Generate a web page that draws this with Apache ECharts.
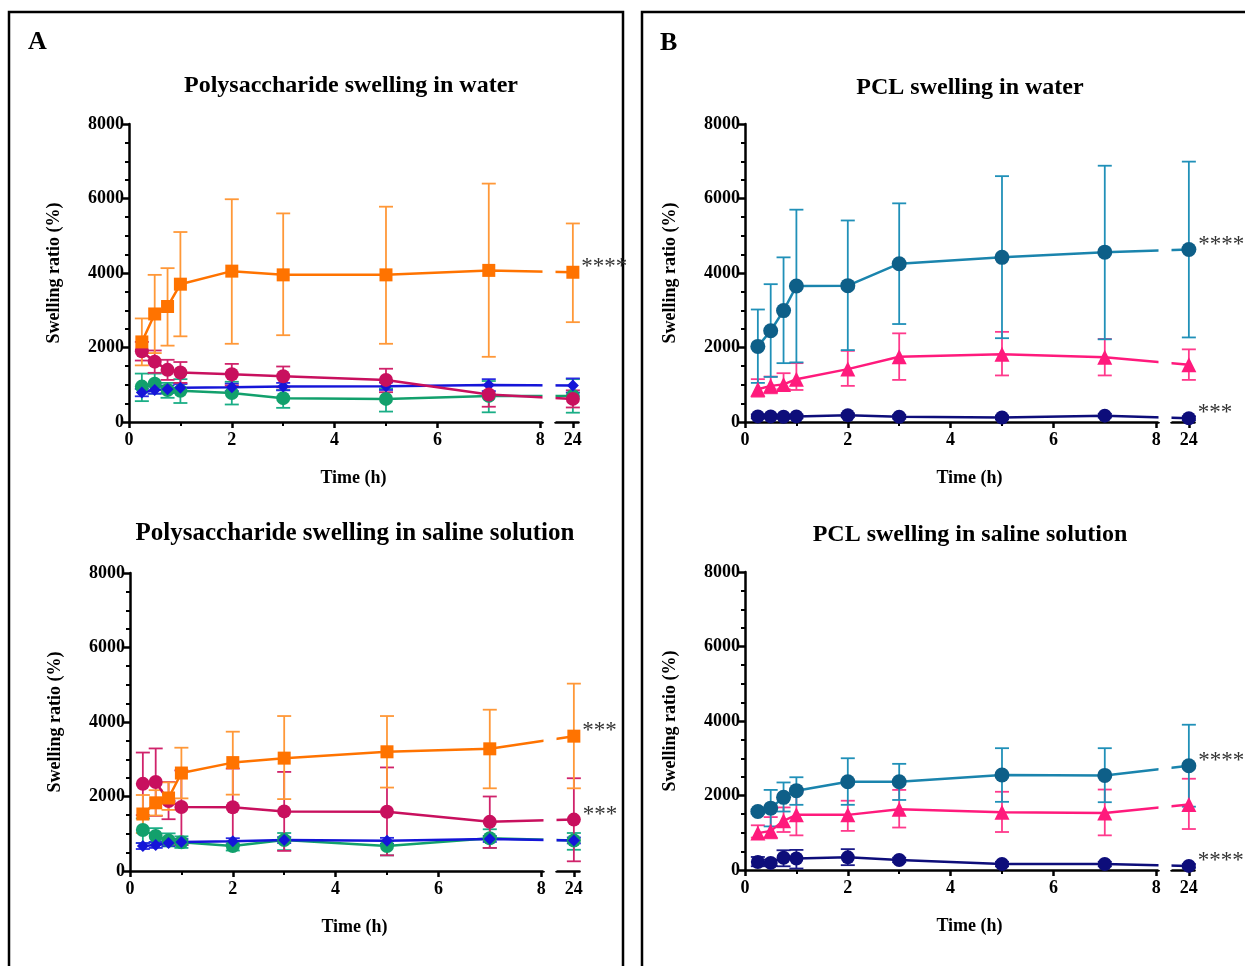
<!DOCTYPE html>
<html><head><meta charset="utf-8">
<script src="https://cdn.jsdelivr.net/npm/echarts@6/dist/echarts.min.js"></script>
<style>html,body{margin:0;padding:0;background:#fff}#c{width:1245px;height:966px}</style>
</head><body><div id="c"></div>
<script>
// ---------- data ----------
const times = [0.25, 0.5, 0.75, 1, 2, 3, 5, 7, 24];
const xTickValues = [0, 2, 4, 6, 8, 24];
const yTickValues = [0, 2000, 4000, 6000, 8000];

// Panel A – polysaccharide in water
const aWaterOrange   = [2150, 2900, 3100, 3700, 4050, 3950, 3950, 4070, 4020];
const aWaterOrangeHi = [2780, 3950, 4130, 5100, 5980, 5600, 5780, 6400, 5330];
const aWaterOrangeLo = [1520, 1850, 2050, 2300, 2100, 2330, 2100, 1750, 2680];
const aWaterCrimson   = [1900, 1620, 1400, 1330, 1280, 1230, 1130, 740, 620];
const aWaterCrimsonHi = [2150, 1920, 1670, 1610, 1560, 1490, 1430, 1000, 850];
const aWaterCrimsonLo = [1650, 1320, 1130, 1050, 980, 930, 800, 410, 390];
const aWaterBlue   = [790, 860, 880, 920, 930, 950, 960, 990, 980];
const aWaterBlueHi = [890, 960, 980, 1020, 1030, 1050, 1060, 1150, 1170];
const aWaterBlueLo = [690, 760, 780, 820, 830, 850, 860, 830, 790];
const aWaterGreen   = [950, 1030, 860, 840, 780, 640, 620, 700, 700];
const aWaterGreenHi = [1300, 1300, 1050, 1150, 1080, 860, 900, 1100, 1150];
const aWaterGreenLo = [560, 760, 650, 510, 470, 380, 280, 260, 250];

// Panel A – polysaccharide in saline
const aSalineOrange   = [1530, 1830, 1960, 2630, 2910, 3030, 3200, 3280, 3620];
const aSalineOrangeHi = [2040, 2170, 2380, 3310, 3740, 4160, 4160, 4330, 5030];
const aSalineOrangeLo = [1020, 1490, 1640, 1950, 2050, 1930, 2240, 2220, 2220];
const aSalineCrimson   = [2340, 2390, 1880, 1720, 1710, 1600, 1590, 1320, 1380];
const aSalineCrimsonHi = [3180, 3290, 2390, 2700, 2750, 2660, 2780, 2000, 2490];
const aSalineCrimsonLo = [1500, 1480, 1390, 700, 670, 540, 420, 620, 260];
const aSalineBlue   = [670, 700, 750, 780, 800, 830, 810, 860, 820];
const aSalineBlueHi = [750, 780, 830, 860, 880, 910, 890, 940, 900];
const aSalineBlueLo = [590, 620, 670, 700, 720, 750, 730, 780, 740];
const aSalineGreen   = [1100, 940, 820, 770, 670, 830, 670, 880, 820];
const aSalineGreenHi = [1410, 1150, 1010, 930, 790, 1020, 800, 1120, 1020];
const aSalineGreenLo = [750, 760, 660, 620, 550, 560, 420, 620, 570];

// Panel B – PCL in water
const bWaterTeal   = [2030, 2450, 2990, 3650, 3660, 4250, 4420, 4560, 4630];
const bWaterTealHi = [3020, 3700, 4420, 5700, 5410, 5870, 6600, 6880, 6990];
const bWaterTealLo = [1050, 1210, 1580, 1600, 1930, 2630, 2250, 2220, 2270];
const bWaterPink   = [880, 970, 1010, 1150, 1420, 1750, 1820, 1740, 1540];
const bWaterPinkHi = [1150, 1220, 1310, 1580, 1910, 2380, 2420, 2230, 1950];
const bWaterPinkLo = [680, 770, 880, 860, 970, 1130, 1250, 1250, 1130];
const bWaterNavy   = [150, 150, 140, 150, 180, 140, 120, 170, 100];
const bWaterNavyHi = [200, 200, 190, 200, 230, 190, 170, 220, 150];
const bWaterNavyLo = [100, 100, 90, 100, 130, 90, 70, 120, 50];

// Panel B – PCL in saline
const bSalineTeal   = [1570, 1660, 1950, 2130, 2370, 2370, 2550, 2540, 2800];
const bSalineTealHi = [1630, 2150, 2350, 2490, 3000, 2850, 3270, 3270, 3900];
const bSalineTealLo = [1510, 1170, 1570, 1750, 1750, 1880, 1830, 1820, 1700];
const bSalinePink   = [990, 1050, 1320, 1480, 1480, 1630, 1550, 1530, 1760];
const bSalinePinkHi = [1200, 1420, 1680, 2100, 1860, 2150, 2100, 2160, 2450];
const bSalinePinkLo = [870, 850, 1020, 930, 1050, 1140, 1020, 930, 1100];
const bSalineNavy   = [215, 190, 330, 310, 340, 270, 160, 160, 110];
const bSalineNavyHi = [350, 280, 530, 540, 560, 330, 220, 220, 160];
const bSalineNavyLo = [100, 110, 100, 40, 130, 210, 100, 100, 60];

// significance labels (at 24 h)
const sigAWater  = {orange: '****'};
const sigASaline = {orange: '***', crimson: '***'};
const sigBWater  = {teal: '****', navy: '***'};
const sigBSaline = {teal: '****', navy: '****'};

const titles = ['Polysaccharide swelling in water', 'PCL swelling in water',
                'Polysaccharide swelling in saline solution', 'PCL swelling in saline solution'];

// ---------- styling ----------
const SERIF = '"Liberation Serif","Times New Roman",serif';
const C = {
  orange:  {line: '#ff7300', err: '#ff9838', symbol: 'rect', size: 13},
  crimson: {line: '#c8105e', err: '#d0236b', symbol: 'circle', size: 14},
  blue:    {line: '#1515d8', err: '#2a2ae0', symbol: 'diamond', size: 12},
  green:   {line: '#12a06c', err: '#1aae86', symbol: 'circle', size: 14},
  teal:    {line: '#1a84ad', err: '#2090b8', mark: '#0e5f88', symbol: 'circle', size: 15},
  pink:    {line: '#ff1a7c', err: '#ff3a8c', symbol: 'triangle', size: 15},
  navy:    {line: '#0d0d7a', err: '#1a1a88', symbol: 'circle', size: 14}
};

const plots = [
  {grid: {left: 129, top: 124}, sig: sigAWater, series: [
    ['green', aWaterGreen, aWaterGreenHi, aWaterGreenLo],
    ['blue', aWaterBlue, aWaterBlueHi, aWaterBlueLo],
    ['crimson', aWaterCrimson, aWaterCrimsonHi, aWaterCrimsonLo],
    ['orange', aWaterOrange, aWaterOrangeHi, aWaterOrangeLo]]},
  {grid: {left: 745, top: 124}, sig: sigBWater, series: [
    ['navy', bWaterNavy, bWaterNavyHi, bWaterNavyLo],
    ['pink', bWaterPink, bWaterPinkHi, bWaterPinkLo],
    ['teal', bWaterTeal, bWaterTealHi, bWaterTealLo]]},
  {grid: {left: 130, top: 573}, sig: sigASaline, series: [
    ['green', aSalineGreen, aSalineGreenHi, aSalineGreenLo],
    ['blue', aSalineBlue, aSalineBlueHi, aSalineBlueLo],
    ['crimson', aSalineCrimson, aSalineCrimsonHi, aSalineCrimsonLo],
    ['orange', aSalineOrange, aSalineOrangeHi, aSalineOrangeLo]]},
  {grid: {left: 745, top: 572}, sig: sigBSaline, series: [
    ['navy', bSalineNavy, bSalineNavyHi, bSalineNavyLo],
    ['pink', bSalinePink, bSalinePinkHi, bSalinePinkLo],
    ['teal', bSalineTeal, bSalineTealHi, bSalineTealLo]]}
];

function errRender(color) {
  return function (params, api) {
    const x = api.value(0), lo = api.value(1), hi = api.value(2);
    const t = api.coord([x, hi]), b = api.coord([x, lo]);
    const w = 7;
    const style = {stroke: color, lineWidth: 1.8, fill: null};
    return {type: 'group', children: [
      {type: 'line', shape: {x1: t[0], y1: t[1], x2: b[0], y2: b[1]}, style},
      {type: 'line', shape: {x1: t[0] - w, y1: t[1], x2: t[0] + w, y2: t[1]}, style},
      {type: 'line', shape: {x1: b[0] - w, y1: b[1], x2: b[0] + w, y2: b[1]}, style}
    ]};
  };
}

const axisFont = {color: '#000', fontFamily: SERIF, fontWeight: 'bold', fontSize: 18};
const grid = [], xAxis = [], yAxis = [], series = [];
plots.forEach((p, gi) => {
  grid.push({left: p.grid.left, top: p.grid.top, width: 449, height: 298, containLabel: false});
  xAxis.push({
    type: 'value', gridIndex: gi, min: 0, max: 24.1, interval: 2,
    breaks: [{start: 8.05, end: 23.65, gap: '2.7%'}],
    breakArea: {show: true, expandOnClick: false, zigzagAmplitude: 0, zigzagZ: 100,
      itemStyle: {color: '#fff', borderColor: '#fff', borderWidth: 0, opacity: 1}},
    axisLine: {onZero: false, lineStyle: {color: '#000', width: 2.5}},
    axisTick: {length: 6, customValues: xTickValues, lineStyle: {color: '#000', width: 2.5}},
    minorTick: {show: true, splitNumber: 2, length: 4, lineStyle: {color: '#000', width: 2}},
    axisLabel: Object.assign({margin: 9, customValues: xTickValues, formatter: v => String(v)}, axisFont),
    splitLine: {show: false},
    name: 'Time (h)', nameLocation: 'middle', nameGap: 47,
    nameTextStyle: axisFont
  });
  yAxis.push({
    type: 'value', gridIndex: gi, min: 0, max: 8000, interval: 2000,
    axisLine: {show: true, lineStyle: {color: '#000', width: 2.5}},
    axisTick: {show: true, length: 6, lineStyle: {color: '#000', width: 2.5}},
    minorTick: {show: true, splitNumber: 4, length: 4, lineStyle: {color: '#000', width: 2}},
    axisLabel: Object.assign({margin: 5, customValues: yTickValues, formatter: v => String(v)}, axisFont),
    splitLine: {show: false},
    name: 'Swelling ratio (%)', nameLocation: 'middle', nameGap: 66,
    nameTextStyle: axisFont
  });
  p.series.forEach(([key, mean, hi, lo]) => {
    const c = C[key];
    series.push({
      type: 'custom', xAxisIndex: gi, yAxisIndex: gi, z: 2,
      renderItem: errRender(c.err),
      encode: {x: 0, y: [1, 2]},
      data: times.map((t, i) => [t, lo[i], hi[i]]),
      silent: true
    });
    const sig = p.sig[key];
    series.push({
      type: 'line', xAxisIndex: gi, yAxisIndex: gi, z: 3,
      symbol: c.symbol, symbolSize: c.size, showAllSymbol: true,
      lineStyle: {color: c.line, width: 2.5},
      itemStyle: {color: c.mark || c.line},
      data: times.map((t, i) => {
        const d = {value: [t, mean[i]]};
        if (i === times.length - 1 && sig) {
          d.label = {show: true, formatter: sig, position: 'right', distance: 2, offset: [0, -5],
            fontFamily: SERIF, fontSize: 23, color: '#333', fontWeight: 'normal'};
        }
        return d;
      }),
      animation: false
    });
  });
});

const textStyle = (t, x, y, size, align) => ({
  type: 'text', x, y,
  style: {text: t, fontFamily: SERIF, fontWeight: 'bold', fontSize: size, fill: '#000',
    textAlign: align || 'center', textVerticalAlign: 'middle'}
});

const graphic = [
  {type: 'rect', shape: {x: 9, y: 12, width: 614, height: 980}, style: {fill: 'none', stroke: '#000', lineWidth: 2.5}},
  {type: 'rect', shape: {x: 642, y: 12, width: 640, height: 980}, style: {fill: 'none', stroke: '#000', lineWidth: 2.5}},
  textStyle('A', 28, 42, 26, 'left'),
  textStyle('B', 660, 43, 26, 'left'),
  textStyle(titles[0], 351, 86, 24),
  textStyle(titles[1], 970, 88, 24),
  textStyle(titles[2], 355, 534, 25),
  textStyle(titles[3], 970, 535, 24)
];

const chart = echarts.init(document.getElementById('c'), null, {renderer: 'canvas'});
chart.setOption({animation: false, backgroundColor: '#fff', grid, xAxis, yAxis, series, graphic});
</script>
</body></html>
